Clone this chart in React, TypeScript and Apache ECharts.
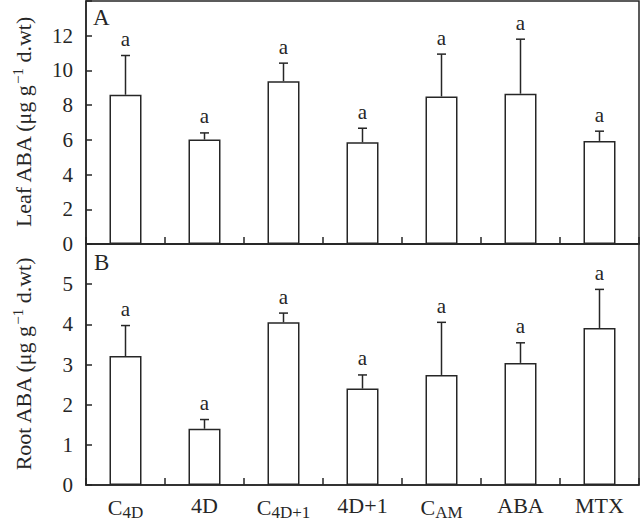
import React, { useEffect, useRef } from "react";
import * as echarts from "echarts";

const catMain = ["C", "4D", "C", "4D+1", "C", "ABA", "MTX"];
const catSub = ["4D", "", "4D+1", "", "AM", "", ""];

const leafMean = [8.6, 6.02, 9.38, 5.86, 8.5, 8.66, 5.94];
const leafSE = [2.26, 0.38, 1.04, 0.81, 2.44, 3.14, 0.56];
const leafSig = ["a", "a", "a", "a", "a", "a", "a"];

const rootMean = [3.21, 1.4, 4.05, 2.4, 2.74, 3.04, 3.91];
const rootSE = [0.76, 0.23, 0.23, 0.34, 1.31, 0.5, 0.96];
const rootSig = ["a", "a", "a", "a", "a", "a", "a"];

const INK = "#262626";
const FONT = "Liberation Serif";

export default function App() {
  const ref = useRef<HTMLDivElement>(null);
  useEffect(() => {
    if (!ref.current) return;
    const chart = echarts.init(ref.current, null, { renderer: "svg" });
    const lineStyle = { color: INK, width: 1.5 };

    const errSeries = (mean: number[], se: number[], sig: string[], idx: number) => ({
      type: "custom",
      xAxisIndex: idx,
      yAxisIndex: idx,
      data: mean.map((m, i) => [i, m, m + se[i]]),
      z: 5,
      renderItem: (params: any, api: any) => {
        const i = api.value(0);
        const p0 = api.coord([i, api.value(1)]);
        const p1 = api.coord([i, api.value(2)]);
        const h = 4.5;
        const st = { stroke: INK, lineWidth: 1.5 };
        return {
          type: "group",
          children: [
            { type: "line", shape: { x1: p0[0], y1: p0[1], x2: p1[0], y2: p1[1] }, style: st },
            { type: "line", shape: { x1: p1[0] - h, y1: p1[1], x2: p1[0] + h, y2: p1[1] }, style: st },
            {
              type: "text",
              x: p1[0],
              y: p1[1] - 6,
              style: {
                text: sig[params.dataIndex],
                textAlign: "center",
                textVerticalAlign: "bottom",
                font: `21px "${FONT}"`,
                fill: INK,
              },
            },
          ],
        };
      },
    });

    const barSeries = (mean: number[], idx: number) => ({
      type: "bar",
      xAxisIndex: idx,
      yAxisIndex: idx,
      data: mean,
      barWidth: 32,
      itemStyle: { color: "#fff", borderColor: INK, borderWidth: 1.5 },
    });

    const yAxisCommon = (max: number, interval: number, name: string, idx: number) => ({
      type: "value",
      gridIndex: idx,
      min: 0,
      max,
      interval,
      name,
      nameLocation: "middle",
      nameGap: 50,
      nameRotate: 90,
      nameTextStyle: {
        fontFamily: FONT,
        fontSize: 22,
        color: INK,
        rich: {
          t: { fontFamily: FONT, fontSize: 22, color: INK, lineHeight: 26 },
          p: { fontFamily: FONT, fontSize: 15, color: INK, verticalAlign: "top", lineHeight: 26 },
        },
      },
      axisLine: { show: true, lineStyle },
      axisTick: { show: true, inside: true, length: 6, lineStyle },
      splitLine: { show: false },
      axisLabel: {
        fontFamily: FONT,
        fontSize: 21,
        color: INK,
        margin: 13,
        formatter: (v: number) => (v === max ? "" : String(v)),
      },
    });

    const xAxisCommon = (idx: number, showLabel: boolean) => ({
      type: "category",
      gridIndex: idx,
      data: catMain.map((m, i) => m + catSub[i]),
      axisLine: { show: true, lineStyle },
      axisTick: { show: true, inside: true, length: 7, lineStyle },
      axisLabel: {
        show: showLabel,
        interval: 0,
        margin: 8,
        fontFamily: FONT,
        formatter: (_v: string, i: number) =>
          catSub[i] ? `{m|${catMain[i]}}{s|${catSub[i]}}` : `{m|${catMain[i]}}`,
        rich: {
          m: { fontFamily: FONT, fontSize: 22, color: INK, lineHeight: 24 },
          s: { fontFamily: FONT, fontSize: 17, color: INK, verticalAlign: "bottom", lineHeight: 28 },
        },
      },
    });

    chart.setOption({
      animation: false,
      backgroundColor: "#fff",
      grid: [
        { left: 86, top: 1, width: 553, height: 243, show: true, borderColor: INK, borderWidth: 1.5, containLabel: false },
        { left: 86, top: 244, width: 553, height: 244, show: true, borderColor: INK, borderWidth: 1.5, containLabel: false },
      ],
      xAxis: [xAxisCommon(0, false), xAxisCommon(1, true)],
      yAxis: [
        yAxisCommon(14, 2, "{t|Leaf ABA (μg g}{p|−1}{t| d.wt)}", 0),
        yAxisCommon(6, 1, "{t|Root ABA (μg g}{p|−1}{t| d.wt)}", 1),
      ],
      graphic: [
        { type: "text", left: 93, top: 6, style: { text: "A", font: `23px "${FONT}"`, fill: INK } },
        { type: "text", left: 94, top: 251, style: { text: "B", font: `23px "${FONT}"`, fill: INK } },
      ],
      series: [
        barSeries(leafMean, 0),
        errSeries(leafMean, leafSE, leafSig, 0),
        barSeries(rootMean, 1),
        errSeries(rootMean, rootSE, rootSig, 1),
      ],
    });
    return () => chart.dispose();
  }, []);
  return (
    <div
      ref={ref}
      style={{ position: "absolute", left: 0, top: 0, width: 640, height: 521, background: "#fff" }}
    />
  );
}
